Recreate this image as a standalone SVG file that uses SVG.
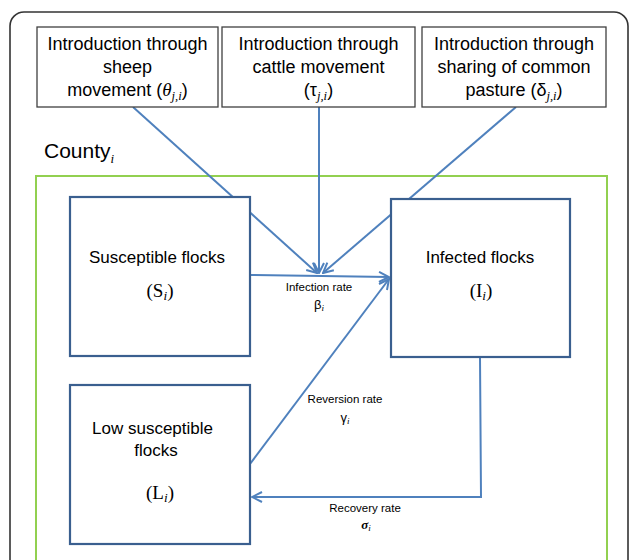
<svg xmlns="http://www.w3.org/2000/svg" width="629" height="560" viewBox="0 0 629 560">
<style>
  .lbl { font-family: "Liberation Sans", Arial, sans-serif; font-size: 17px; fill: #000; text-anchor: middle; }
  .top { font-size: 18px; }
  .small { font-family: "Liberation Sans", Arial, sans-serif; font-size: 11.5px; fill: #000; text-anchor: middle; }
  .math { font-family: "Liberation Serif", "Times New Roman", serif; font-size: 19px; }
  .greek { font-size: 13px; }
  .it { font-style: italic; font-family: "Liberation Serif", "Times New Roman", serif; }
  .sub { font-size: 70%; }
  .conn { fill: none; stroke: #4F81BD; stroke-width: 2; }
  .box { fill: #fff; stroke: #3A5F8F; stroke-width: 2.2; }
  .intro { fill: #fff; stroke: #404040; stroke-width: 1.3; }
</style>
<defs>
  <marker id="arr" viewBox="0 0 12 12" refX="11" refY="6" markerWidth="6" markerHeight="6" markerUnits="strokeWidth" orient="auto">
    <path d="M1,1 L11,6 L1,11" fill="none" stroke="#4F81BD" stroke-width="2"/>
  </marker>
</defs>
<rect width="629" height="560" fill="#fff"/>
<g id="outer">
  <rect x="10" y="12" width="618" height="580" rx="14" ry="14" fill="none" stroke="#333" stroke-width="1.6"/>
</g>
<g id="county">
  <text x="44" y="158" font-family="Liberation Sans, Arial, sans-serif" font-size="21">County<tspan class="it" font-size="13" dy="5">i</tspan></text>
  <rect x="36" y="176" width="571" height="420" fill="none" stroke="#92D050" stroke-width="2"/>
</g>
<g id="connectors">
  <line class="conn" x1="133" y1="107" x2="317" y2="273" marker-end="url(#arr)"/>
  <line class="conn" x1="319" y1="107" x2="319" y2="273" marker-end="url(#arr)"/>
  <line class="conn" x1="516" y1="107" x2="323" y2="273" marker-end="url(#arr)"/>
  <line class="conn" x1="250" y1="275" x2="389" y2="277" marker-end="url(#arr)"/>
  <line class="conn" x1="250" y1="464" x2="389" y2="279" marker-end="url(#arr)"/>
  <polyline class="conn" points="480,357 481,497 252,497" marker-end="url(#arr)"/>
</g>
<g id="sheep">
  <rect class="intro" x="37" y="27" width="181" height="80"/>
  <text class="lbl top" x="127.5" y="50">Introduction through</text>
  <text class="lbl top" x="127.5" y="73">sheep</text>
  <text class="lbl top" x="127.5" y="96">movement (<tspan class="it" font-size="19">θ</tspan><tspan class="it sub" dy="4">j,i</tspan><tspan dy="-4">)</tspan></text>
</g>
<g id="cattle">
  <rect class="intro" x="222" y="27" width="193" height="80"/>
  <text class="lbl top" x="318.5" y="50">Introduction through</text>
  <text class="lbl top" x="318.5" y="73">cattle movement</text>
  <text class="lbl top" x="318.5" y="96">(τ<tspan class="it sub" dy="4">j,i</tspan><tspan dy="-4">)</tspan></text>
</g>
<g id="pasture">
  <rect class="intro" x="422" y="27" width="184" height="80"/>
  <text class="lbl top" x="514" y="50">Introduction through</text>
  <text class="lbl top" x="514" y="73">sharing of common</text>
  <text class="lbl top" x="514" y="96">pasture (δ<tspan class="it sub" dy="4">j,i</tspan><tspan dy="-4">)</tspan></text>
</g>
<g id="susceptible">
  <rect class="box" x="70" y="197" width="180" height="159"/>
  <text class="lbl" x="157" y="263">Susceptible flocks</text>
  <text class="lbl math" x="160" y="297">(S<tspan class="it sub" dy="3">i</tspan><tspan dy="-3">)</tspan></text>
</g>
<g id="infected">
  <rect class="box" x="391" y="199" width="179" height="158"/>
  <text class="lbl" x="480" y="263">Infected flocks</text>
  <text class="lbl math" x="481" y="297">(I<tspan class="it sub" dy="3">i</tspan><tspan dy="-3">)</tspan></text>
</g>
<g id="low">
  <rect class="box" x="70" y="385" width="180" height="159"/>
  <text class="lbl" x="152.5" y="434">Low susceptible</text>
  <text class="lbl" x="156" y="456">flocks</text>
  <text class="lbl math" x="160" y="499">(L<tspan class="it sub" dy="3">i</tspan><tspan dy="-3">)</tspan></text>
</g>
<g id="labels">
  <text class="small" x="319" y="291">Infection rate</text>
  <text class="small greek" x="319" y="309">β<tspan class="it sub" dy="2">i</tspan></text>
  <text class="small" x="345" y="403">Reversion rate</text>
  <text class="small greek" x="345" y="422">γ<tspan class="it sub" dy="2">i</tspan></text>
  <text class="small" x="365" y="512">Recovery rate</text>
  <text class="small greek" x="366" y="529"><tspan font-weight="bold" class="it">σ</tspan><tspan class="it sub" dy="2">i</tspan></text>
</g>
</svg>
